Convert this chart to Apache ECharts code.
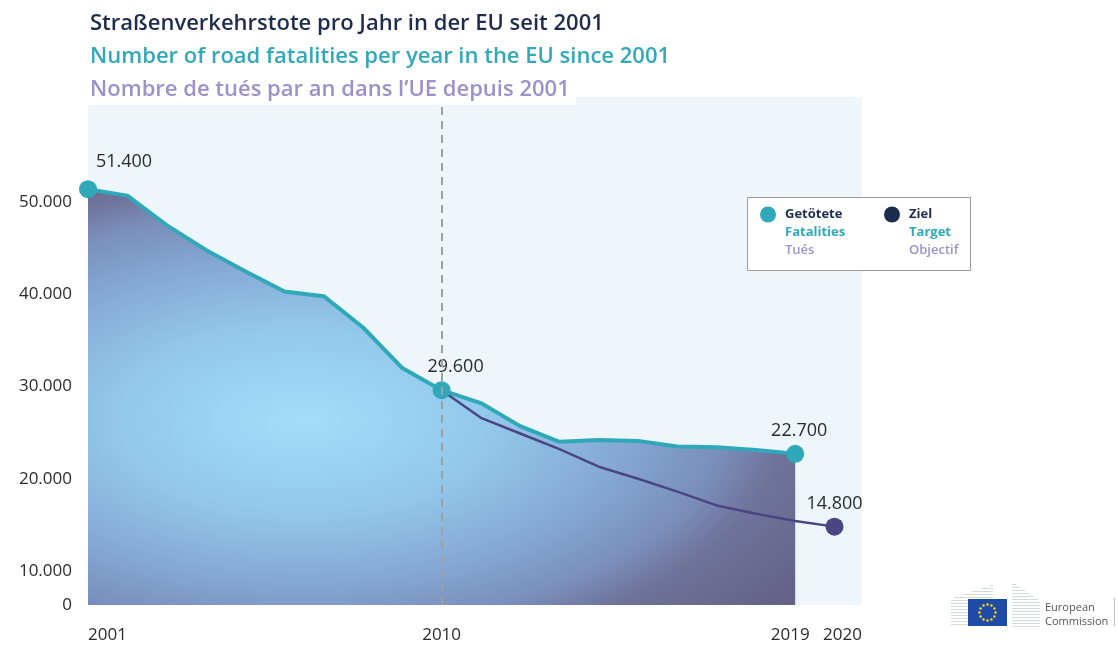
<!DOCTYPE html>
<html>
<head>
<meta charset="utf-8">
<title>Straßenverkehrstote pro Jahr in der EU seit 2001</title>
<script src="https://cdn.jsdelivr.net/npm/echarts@6/dist/echarts.min.js"></script>
<style>
  html, body { margin: 0; padding: 0; background: #fff; }
  #chart { width: 1118px; height: 648px; }
</style>
</head>
<body>
<div id="chart"></div>
<script>
// data (labelled points are exact)
const years = [2001, 2002, 2003, 2004, 2005, 2006, 2007, 2008, 2009, 2010,
               2011, 2012, 2013, 2014, 2015, 2016, 2017, 2018, 2019];
const fatalities = [51400, 50700, 47500, 44800, 42500, 40300, 39800, 36400, 32000, 29600,
                    28200, 25700, 24000, 24200, 24100, 23500, 23400, 23100, 22700];
const targetYears = [2010, 2011, 2012, 2013, 2014, 2015, 2016, 2017, 2018, 2019, 2020];
const target = [29600, 26600, 24900, 23200, 21300, 20000, 18600, 17100, 16200, 15400, 14800];
const labelledFatalities = [2001, 2010, 2019];
const labelledTarget = [2020];
const xTicks = [2001, 2010, 2019, 2020];
const yTicks = [10000, 20000, 30000, 40000, 50000];

// the reference starts its value axis above zero but still prints "0" at the bottom
const yMin = 6300;
const yMax = 61400;

const FONT = '"Open Sans", "Noto Sans", sans-serif';
const TEAL = '#2fa9b9';
const PURPLE = '#4b4584';
const NAVY = '#1b2c4e';
const LAVENDER = '#9c91c9';

const W = 1118, H = 648;
const GRID = { left: 88, right: 256, top: 97, bottom: 43 };

function fmt(v) {
  return String(v).replace(/\B(?=(\d{3})+(?!\d))/g, '.');
}

// label offsets for the annotated points
const labelOffset = { 2001: [36, -4], 2010: [14, 0], 2019: [4, 0], 2020: [0, 0] };

function buildData(xs, vals, labelled) {
  return xs.map((x, i) => {
    if (labelled.indexOf(x) < 0) return [x, vals[i]];
    return {
      value: [x, vals[i]],
      symbolSize: 18,
      label: {
        show: true,
        position: 'top',
        offset: labelOffset[x],
        formatter: fmt(vals[i]),
        fontFamily: FONT,
        fontSize: 18,
        color: '#2b2b2b'
      }
    };
  });
}

// elliptical glow for the area fill, painted once on an offscreen canvas
function areaTexture() {
  const c = document.createElement('canvas');
  c.width = W; c.height = H;
  const ctx = c.getContext('2d');
  const cx = GRID.left + 215, cy = 420;
  ctx.save();
  ctx.translate(cx, cy);
  ctx.scale(1, 0.5);
  const g = ctx.createRadialGradient(0, 0, 0, 0, 0, 600);
  g.addColorStop(0, '#a2ddfa');
  g.addColorStop(0.3, '#93c9ec');
  g.addColorStop(0.55, '#84a6d3');
  g.addColorStop(0.7, '#7a8ebb');
  g.addColorStop(0.8, '#6f7399');
  g.addColorStop(1, '#646286');
  ctx.fillStyle = g;
  ctx.fillRect(-cx, -cy * 2, W, H * 2);
  ctx.restore();
  return c;
}

// EU logo bits (decoration only)
function logo() {
  const items = [];
  for (let y = 585; y <= 626; y += 3) {
    const x0 = y < 598 ? 990 - (y - 585) * 3 : 951;
    items.push({ type: 'rect', shape: { x: x0, y: y, width: 993 - x0, height: 1 },
      style: { fill: '#d6d9dd' } });
  }
  for (let y = 584; y <= 626; y += 3) {
    const x1 = y < 600 ? 1016 + (y - 584) * 1.5 : 1040;
    items.push({ type: 'rect', shape: { x: 1012, y: y, width: x1 - 1012, height: 1 },
      style: { fill: '#d6d9dd' } });
  }
  items.push({ type: 'rect', shape: { x: 968, y: 599, width: 39, height: 27 },
    style: { fill: '#1f4aa8' } });
  for (let k = 0; k < 12; k++) {
    const a = k * Math.PI / 6;
    items.push({ type: 'circle',
      shape: { cx: 987.5 + 8 * Math.cos(a), cy: 612.5 + 8 * Math.sin(a), r: 1.2 },
      style: { fill: '#ffdd00' } });
  }
  items.push({ type: 'text', left: 1045, top: 601,
    style: { text: 'European\nCommission', fontFamily: FONT, fontSize: 11, lineHeight: 14, fill: '#555' } });
  items.push({ type: 'rect', shape: { x: 1114, y: 598, width: 1, height: 28 },
    style: { fill: '#c0c0c0' } });
  return items;
}

const chart = echarts.init(document.getElementById('chart'));

const legendRich = {
  s: { fontSize: 13, lineHeight: 18 },
  a: { fontFamily: FONT, fontSize: 13, fontWeight: 700, lineHeight: 18, color: NAVY, padding: [0, 0, 0, 4] },
  b: { fontFamily: FONT, fontSize: 13, fontWeight: 700, lineHeight: 18, color: TEAL, padding: [0, 0, 0, 4] },
  c: { fontFamily: FONT, fontSize: 13, fontWeight: 600, lineHeight: 18, color: LAVENDER, padding: [0, 0, 0, 4] }
};
const legendText = {
  'Getötete': ['Getötete', 'Fatalities', 'Tués'],
  'Ziel': ['Ziel', 'Target', 'Objectif']
};
function legendFormatter(name) {
  const t = legendText[name];
  return ['{s| }', '{s| }', '{a|' + t[0] + '}', '{b|' + t[1] + '}', '{c|' + t[2] + '}'].join('\n');
}

// the last two year labels sit close together: nudge them apart
const yearRich = {
  l: { fontFamily: FONT, fontSize: 17, color: '#2b2b2b', padding: [0, 10, 0, 0] },
  r: { fontFamily: FONT, fontSize: 17, color: '#2b2b2b', padding: [0, 0, 0, 16] }
};
function yearLabel(v) {
  if (v === 2019) return '{l|2019}';
  if (v === 2020) return '{r|2020}';
  return String(v);
}

chart.setOption({
  animation: false,
  title: [
    { text: 'Straßenverkehrstote pro Jahr in der EU seit 2001', left: 90, top: 13, padding: 0,
      textStyle: { fontFamily: FONT, fontSize: 22, fontWeight: 600, color: '#1f2d4d' } },
    { text: 'Number of road fatalities per year in the EU since 2001', left: 90, top: 46, padding: 0,
      textStyle: { fontFamily: FONT, fontSize: 22, fontWeight: 600, color: '#32a9b9' } },
    { text: 'Nombre de tués par an dans l’UE depuis 2001', left: 84, top: 77, padding: [2, 6, 4, 6],
      backgroundColor: '#fff',
      textStyle: { fontFamily: FONT, fontSize: 22, fontWeight: 600, color: LAVENDER } }
  ],
  legend: [
    { data: [{ name: 'Getötete', itemStyle: { color: TEAL } }],
      left: 760, top: 172, padding: 0, icon: 'circle', itemWidth: 16, itemHeight: 16,
      selectedMode: false, formatter: legendFormatter, textStyle: { rich: legendRich } },
    { data: [{ name: 'Ziel', itemStyle: { color: NAVY } }],
      left: 884, top: 172, padding: 0, icon: 'circle', itemWidth: 16, itemHeight: 16,
      selectedMode: false, formatter: legendFormatter, textStyle: { rich: legendRich } }
  ],
  graphic: [
    { type: 'rect', z: 3, shape: { x: 747.5, y: 197.5, width: 223, height: 73 },
      style: { fill: '#fff', stroke: '#9a9a9a', lineWidth: 1 } },
    { type: 'group', children: logo() }
  ],
  grid: Object.assign({ show: true, backgroundColor: '#eef6fc', borderWidth: 0 }, GRID),
  xAxis: {
    type: 'value',
    min: 2001,
    max: 2020.7,
    splitLine: { show: false },
    axisLine: { show: false },
    axisTick: { show: false },
    axisLabel: {
      customValues: xTicks,
      alignMinLabel: 'left',
      margin: 22,
      formatter: yearLabel,
      rich: yearRich,
      fontFamily: FONT, fontSize: 17, color: '#2b2b2b'
    }
  },
  yAxis: {
    type: 'value',
    min: yMin,
    max: yMax,
    splitLine: { show: false },
    axisLine: { show: false },
    axisTick: { show: false },
    axisLabel: {
      customValues: [yMin].concat(yTicks),
      margin: 16,
      formatter: v => (v === yMin ? '0' : fmt(v)),
      fontFamily: FONT, fontSize: 17, color: '#2b2b2b'
    }
  },
  series: [
    {
      name: 'Getötete',
      type: 'line',
      data: buildData(years, fatalities, labelledFatalities),
      symbol: 'circle',
      symbolSize: 0,
      showSymbol: true,
      silent: true,
      itemStyle: { color: TEAL },
      lineStyle: { color: TEAL, width: 4, join: 'round' },
      areaStyle: {
        opacity: 1,
        color: { image: areaTexture(), repeat: 'no-repeat' }
      },
      markLine: {
        silent: true,
        symbol: 'none',
        label: { show: false },
        lineStyle: { color: '#a0a0a0', width: 2, type: [8, 6] },
        data: [{ xAxis: 2010 }]
      }
    },
    {
      name: 'Ziel',
      type: 'line',
      data: buildData(targetYears, target, labelledTarget),
      symbol: 'circle',
      symbolSize: 0,
      showSymbol: true,
      silent: true,
      itemStyle: { color: PURPLE },
      lineStyle: { color: PURPLE, width: 2.5 }
    }
  ]
});
</script>
</body>
</html>
